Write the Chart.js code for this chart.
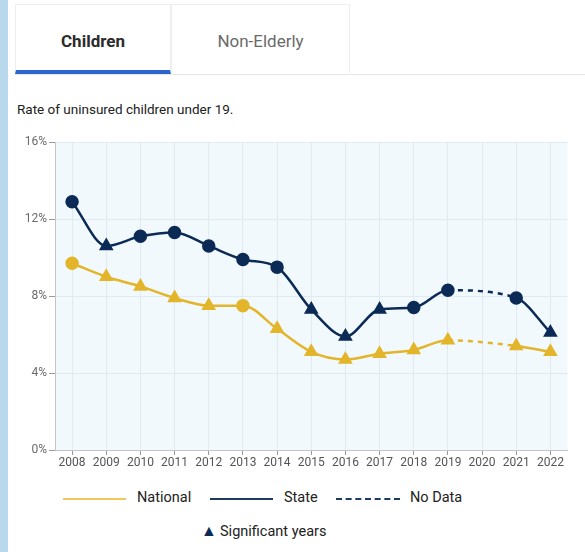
<!DOCTYPE html>
<html>
<head>
<meta charset="utf-8">
<script src="https://cdn.jsdelivr.net/npm/chart.js@4.4.0/dist/chart.umd.min.js"></script>
<style>
  html, body { margin: 0; padding: 0; }
  body { width: 585px; height: 552px; background: #fff; position: relative; overflow: hidden; font-family: Roboto, "Noto Sans", sans-serif; }
  .strip { position: absolute; left: 0; top: 0; width: 8px; height: 552px; background: #b8d8ec; }
  .tabs { position: absolute; left: 15px; top: 4px; width: 570px; height: 70px; border-bottom: 1px solid #e6e6e6; }
  .tab { position: absolute; top: 0; height: 69px; line-height: 72px; text-align: center; font-size: 17px; border: 1px solid #eeeeee; border-bottom: none; box-sizing: border-box; }
  .tab.active { left: 0; width: 156px; font-weight: 700; color: #2b2b2b; border-bottom: 4px solid #2a66cc; height: 70px; }
  .tab.other { left: 156px; width: 179px; color: #6a6a6a; }
  .sub { position: absolute; left: 17px; top: 101px; font-size: 13.5px; color: #222; }
  .chartbox { position: absolute; left: 10px; top: 132px; width: 566px; height: 342px; }
  .legend { position: absolute; left: 0; width: 585px; font-size: 14.5px; color: #222; }
  .legend span { position: absolute; }
  .ln { height: 0; }
</style>
</head>
<body>
<div class="strip"></div>
<div class="tabs">
  <div class="tab active">Children</div>
  <div class="tab other">Non-Elderly</div>
</div>
<div class="sub">Rate of uninsured children under 19.</div>
<div class="chartbox"><canvas id="chart"></canvas></div>
<div class="legend" style="top:489px;">
  <span class="ln" style="left:63px; top:9px; width:63px; border-top:2px solid #f2c75c;"></span>
  <span style="left:137px; top:0;">National</span>
  <span class="ln" style="left:210px; top:9px; width:63px; border-top:2px solid #1e3a63;"></span>
  <span style="left:284px; top:0;">State</span>
  <span class="ln" style="left:336px; top:9px; width:64px; border-top:2px dashed #1e3a63;"></span>
  <span style="left:410px; top:0;">No Data</span>
</div>
<div class="legend" style="top:523px;">
  <span style="left:201px; top:-2px; color:#0b2a55; font-size:16px;">&#9650;</span>
  <span style="left:220px; top:0;">Significant years</span>
</div>
<script>
const years = ['2008','2009','2010','2011','2012','2013','2014','2015','2016','2017','2018','2019','2020','2021','2022'];
const nationalRate = [9.7, 9.0, 8.5, 7.9, 7.5, 7.5, 6.3, 5.1, 4.7, 5.0, 5.2, 5.7, null, 5.4, 5.1];
const stateRate = [12.9, 10.6, 11.1, 11.3, 10.6, 9.9, 9.5, 7.3, 5.9, 7.3, 7.4, 8.3, null, 7.9, 6.1];
const nationalSignificant = [false, true, true, true, true, false, true, true, true, true, true, true, false, true, true];
const stateSignificant = [false, true, false, false, false, false, false, true, true, true, false, false, false, false, true];
const yTicks = [0, 4, 8, 12, 16];

const navy = '#0b2a55';
const gold = '#e2b52b';

const plotBg = {
  id: 'plotBg',
  beforeDraw(chart) {
    const { ctx, chartArea: a } = chart;
    ctx.save();
    ctx.fillStyle = '#f2f9fd';
    ctx.fillRect(a.left, a.top, a.right - a.left, a.bottom - a.top);
    ctx.restore();
  }
};

// dashed where the line spans the missing year
const gapDash = c => (c.p0.skip || c.p1.skip || c.p1DataIndex - c.p0DataIndex > 1) ? [5, 5] : undefined;

function seriesSet(label, data, sig, color) {
  return {
    label: label,
    data: data,
    borderColor: color,
    backgroundColor: color,
    borderWidth: 2.5,
    cubicInterpolationMode: 'monotone',
    spanGaps: true,
    pointStyle: sig.map(s => s ? 'triangle' : 'circle'),
    pointRadius: sig.map(s => s ? 6 : 5.5),
    pointHoverRadius: 6,
    segment: { borderDash: gapDash }
  };
}

new Chart(document.getElementById('chart'), {
  type: 'line',
  data: {
    labels: years,
    datasets: [
      seriesSet('State', stateRate, stateSignificant, navy),
      seriesSet('National', nationalRate, nationalSignificant, gold)
    ]
  },
  options: {
    responsive: true,
    maintainAspectRatio: false,
    animation: false,
    layout: { padding: { top: 10, right: 3, left: 0, bottom: 0 } },
    plugins: { legend: { display: false }, tooltip: { enabled: false } },
    scales: {
      x: {
        offset: true,
        afterFit: s => { s.height = 24; },
        grid: { color: '#e1eaf0', offset: false, tickLength: 5, tickColor: '#9a9a9a' },
        border: { color: '#c4c4c4' },
        ticks: { color: '#555', padding: 1, maxRotation: 0, autoSkip: false, font: { family: 'Roboto', size: 12 } }
      },
      y: {
        min: 0,
        max: 16,
        afterFit: s => { s.width = 45; },
        afterBuildTicks: s => { s.ticks = yTicks.map(v => ({ value: v })); },
        grid: { color: '#e1eaf0', tickLength: 6, tickColor: '#9a9a9a' },
        border: { color: '#c4c4c4' },
        ticks: { color: '#6a6a6a', padding: 2, callback: v => v + '%', font: { family: 'Roboto', size: 12 } }
      }
    }
  },
  plugins: [plotBg]
});
</script>
</body>
</html>
